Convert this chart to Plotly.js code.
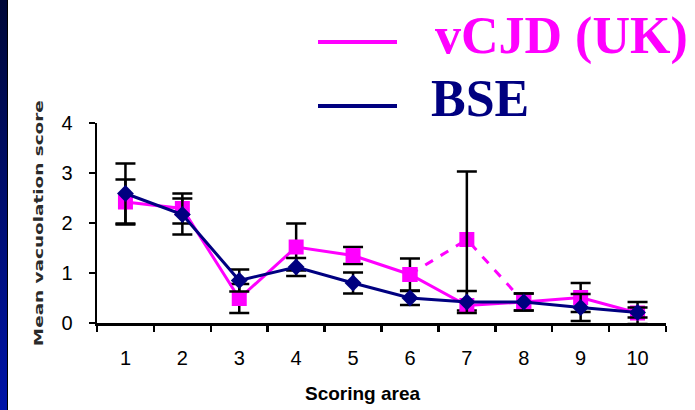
<!DOCTYPE html>
<html>
<head>
<meta charset="utf-8">
<script src="https://cdn.plot.ly/plotly-3.0.1.min.js"></script>
<style>
  html, body { margin: 0; padding: 0; background: #ffffff; }
  #wrap { position: relative; width: 695px; height: 410px; overflow: hidden; }
  #chart { width: 695px; height: 410px; }
  #band { position: absolute; left: 0; top: 0; width: 7px; height: 410px;
          background: linear-gradient(to bottom, #000838, #0014a8); border-right: 1px solid #000; }
</style>
</head>
<body>
<div id="wrap">
  <div id="chart"></div>
  <div id="band"></div>
</div>
<script>
// ---- data ----
const categories = [1, 2, 3, 4, 5, 6, 7, 8, 9, 10];
const tickLabels = ['1', '2', '3', '4', '5', '6', '7', '8', '9', '10'];

const seriesNames = ['vCJD (UK)', 'BSE'];

const vcjdValues    = [2.42, 2.29, 0.49, 1.52, 1.35, 0.97, 0.35, 0.42, 0.51, 0.20];
const vcjdErrPlus   = [0.45, 0.30, 0.29, 0.47, 0.17, 0.32, 2.68, 0.17, 0.29, 0.22];
const vcjdErrMinus  = [0.45, 0.30, 0.29, 0.47, 0.17, 0.32, 0.10, 0.17, 0.29, 0.22];

const vcjdAltCategories = [6, 7, 8];
const vcjdAltValues     = [0.97, 1.67, 0.42];

const bseValues    = [2.59, 2.17, 0.85, 1.12, 0.80, 0.50, 0.42, 0.42, 0.31, 0.21];
const bseErrPlus   = [0.60, 0.32, 0.22, 0.18, 0.21, 0.14, 0.22, 0.17, 0.27, 0.10];
const bseErrMinus  = [0.60, 0.40, 0.22, 0.18, 0.21, 0.14, 0.22, 0.17, 0.27, 0.10];

const yTickVals = [0, 1, 2, 3, 4];

// ---- style ----
const MAGENTA = '#ff00ff';
const NAVY = '#000080';

const errStyle = (plus, minus) => ({
  type: 'data', symmetric: false, array: plus, arrayminus: minus,
  color: '#000000', thickness: 2.5, width: 10
});

const traces = [
  {
    x: vcjdAltCategories, y: vcjdAltValues, mode: 'lines+markers', showlegend: false,
    line: { color: MAGENTA, width: 3, dash: '9px,9px' },
    marker: { symbol: 'square', size: 15, color: MAGENTA }
  },
  {
    x: categories, y: vcjdValues, mode: 'lines+markers', name: seriesNames[0], showlegend: false,
    line: { color: MAGENTA, width: 3 },
    marker: { symbol: 'square', size: 15, color: MAGENTA },
    error_y: errStyle(vcjdErrPlus, vcjdErrMinus)
  },
  {
    x: categories, y: bseValues, mode: 'lines+markers', name: seriesNames[1], showlegend: false,
    line: { color: NAVY, width: 3 },
    marker: { symbol: 'diamond', size: 13, color: NAVY },
    error_y: errStyle(bseErrPlus, bseErrMinus)
  }
];

// plot area in pixels: x 97..666, y 123..323
const L = 97, T = 123, W = 569, H = 200;
const px = v => (v - L) / W;
const py = v => (T + H - v) / H;

const layout = {
  width: 695, height: 410,
  margin: { l: L, r: 695 - L - W, t: T, b: 410 - T - H },
  paper_bgcolor: '#ffffff', plot_bgcolor: '#ffffff',
  showlegend: false,
  font: { family: 'Liberation Sans, Arial, sans-serif', color: '#000000' },
  xaxis: {
    range: [0.5, 10.5], fixedrange: true,
    tickmode: 'array', tickvals: categories, ticktext: tickLabels,
    ticks: '', showgrid: false, zeroline: false,
    showline: true, linecolor: '#000000', linewidth: 2.5,
    tickfont: { size: 20, color: '#000000' },
    ticklabelstandoff: 15,
    minor: { ticks: 'outside', tick0: 0.5, dtick: 1, ticklen: 6, tickwidth: 2.5, tickcolor: '#000000', showgrid: false }
  },
  yaxis: {
    range: [0, 4], fixedrange: true,
    tickmode: 'array', tickvals: yTickVals,
    ticks: 'outside', ticklen: 6, tickwidth: 2.5, tickcolor: '#000000',
    showgrid: false, zeroline: false,
    showline: true, linecolor: '#000000', linewidth: 2.5,
    tickfont: { size: 20, color: '#000000' },
    ticklabelstandoff: 12
  },
  shapes: [
    { type: 'line', xref: 'paper', yref: 'paper', x0: px(318), x1: px(397), y0: py(42), y1: py(42),
      line: { color: MAGENTA, width: 4 } },
    { type: 'line', xref: 'paper', yref: 'paper', x0: px(318), x1: px(397), y0: py(106), y1: py(106),
      line: { color: NAVY, width: 4 } }
  ],
  annotations: [
    { text: '<b>' + seriesNames[0] + '</b>', xref: 'paper', yref: 'paper', x: px(433), y: py(36),
      xanchor: 'left', yanchor: 'middle', showarrow: false,
      font: { family: 'Liberation Serif, Times New Roman, serif', size: 52, color: MAGENTA } },
    { text: '<b>' + seriesNames[1] + '</b>', xref: 'paper', yref: 'paper', x: px(429), y: py(98),
      xanchor: 'left', yanchor: 'middle', showarrow: false,
      font: { family: 'Liberation Serif, Times New Roman, serif', size: 52, color: NAVY } },
    { text: '<b>Mean vacuolation score</b>', xref: 'paper', yref: 'paper', x: px(38), y: py(223),
      xanchor: 'center', yanchor: 'middle', textangle: -90, showarrow: false,
      font: { family: 'DejaVu Sans, sans-serif', size: 13, color: '#2a2a2a' } },
    { text: '<b>Scoring area</b>', xref: 'paper', yref: 'paper', x: px(363), y: py(393),
      xanchor: 'center', yanchor: 'middle', showarrow: false,
      font: { family: 'Liberation Sans, Arial, sans-serif', size: 19, color: '#000000' } }
  ]
};

Plotly.newPlot('chart', traces, layout, { staticPlot: true, displayModeBar: false }).then(gd => {
  // the reference's vertical axis title is drawn stretched along its length
  const texts = gd.querySelectorAll('.annotation-text');
  texts.forEach(t => {
    if (t.textContent === 'Mean vacuolation score') {
      t.setAttribute('textLength', '246');
      t.setAttribute('lengthAdjust', 'spacingAndGlyphs');
    }
  });
});
</script>
</body>
</html>
